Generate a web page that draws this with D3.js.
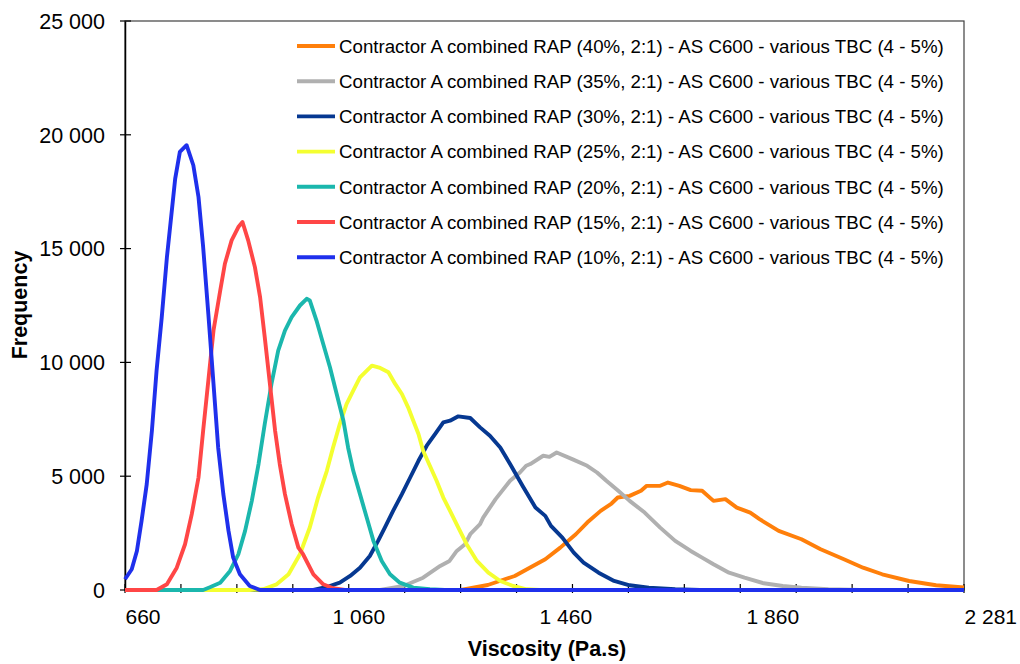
<!DOCTYPE html>
<html>
<head>
<meta charset="utf-8">
<script src="https://cdn.jsdelivr.net/npm/d3@7"></script>
<style>
  html, body { margin: 0; padding: 0; background: #ffffff; }
  svg { display: block; font-family: "Liberation Sans", Arial, sans-serif; }
</style>
</head>
<body>
<svg id="chart" width="1020" height="664"></svg>
<script>
// Viscosity distributions for Contractor A combined RAP blends, [viscosity (Pa.s), frequency]
const rap40 = [[660,0],[1309,0],[1361,220],[1413,616],[1442,981],[1472,1351],[1501,1862],[1531,2450],[1553,2962],[1579,3477],[1600,3800],[1612,4063],[1635,4137],[1657,4358],[1668,4577],[1694,4577],[1709,4723],[1731,4577],[1753,4388],[1775,4358],[1797,3917],[1820,3992],[1842,3622],[1868,3403],[1886,3112],[1923,2597],[1967,2231],[2004,1791],[2049,1351],[2086,981],[2123,691],[2175,396],[2227,207],[2281,110]];
const rap35 = [[660,0],[1153,0],[1198,176],[1236,541],[1269,1056],[1287,1276],[1301,1716],[1317,2011],[1327,2450],[1346,2892],[1352,3183],[1376,3992],[1404,4798],[1423,5163],[1435,5458],[1443,5533],[1468,5898],[1480,5850],[1494,6043],[1524,5752],[1553,5458],[1572,5163],[1590,4798],[1613,4358],[1635,3917],[1664,3403],[1694,2742],[1723,2157],[1753,1716],[1775,1422],[1797,1131],[1827,761],[1857,541],[1894,295],[1931,176],[1967,101],[2019,31],[2080,0],[2281,0]];
const rap30 = [[660,0],[1024,0],[1050,132],[1075,321],[1095,616],[1114,981],[1133,1496],[1149,2157],[1162,2742],[1178,3477],[1195,4212],[1211,4943],[1227,5678],[1243,6338],[1259,6852],[1275,7366],[1288,7438],[1304,7630],[1327,7557],[1346,7145],[1365,6778],[1385,6263],[1404,5533],[1428,4577],[1453,3622],[1472,3257],[1483,2817],[1505,2302],[1527,1642],[1546,1202],[1575,761],[1605,396],[1635,207],[1672,101],[1723,31],[1771,0],[2281,0]];
const rap25 = [[660,0],[901,0],[927,31],[953,250],[976,691],[998,1571],[1017,2745],[1033,4063],[1050,5237],[1062,6263],[1075,7293],[1088,8172],[1101,8759],[1114,9344],[1137,9859],[1153,9756],[1169,9565],[1182,9053],[1195,8612],[1207,8026],[1217,7438],[1227,6852],[1236,6118],[1249,5458],[1262,4798],[1275,4063],[1288,3477],[1304,2742],[1320,2011],[1340,1276],[1362,761],[1385,396],[1410,176],[1436,31],[1462,0],[2281,0]];
const rap20 = [[660,0],[811,0],[824,119],[844,321],[863,836],[879,1571],[892,2597],[905,3917],[918,5533],[930,7293],[943,9053],[956,10519],[969,11400],[982,11985],[998,12500],[1011,12795],[1017,12720],[1030,11840],[1043,10812],[1056,9784],[1069,8612],[1082,7438],[1091,6263],[1101,5237],[1114,4212],[1127,3183],[1140,2157],[1156,1276],[1172,691],[1191,321],[1217,101],[1249,31],[1278,0],[2281,0]];
const rap15 = [[660,0],[721,0],[741,250],[760,981],[776,2011],[789,3332],[802,4943],[811,7000],[821,9200],[831,11400],[844,13160],[853,14335],[866,15361],[879,15948],[887,16168],[898,15361],[911,14187],[921,12867],[930,11106],[940,9053],[950,7000],[959,5533],[969,4212],[982,2892],[995,1862],[1004,1571],[1024,691],[1043,250],[1062,75],[1085,0],[2281,0]];
const rap10 = [[660,471],[673,911],[683,1716],[692,3037],[702,4652],[712,7000],[721,9640],[731,11985],[741,14625],[757,18077],[766,19248],[779,19542],[792,18662],[802,17267],[811,15066],[821,12134],[831,9053],[840,6263],[850,4212],[860,2597],[869,1422],[882,691],[901,176],[921,0],[2281,0]];

const seriesNames = [
  "Contractor A combined RAP (40%, 2:1) - AS C600 - various TBC (4 - 5%)",
  "Contractor A combined RAP (35%, 2:1) - AS C600 - various TBC (4 - 5%)",
  "Contractor A combined RAP (30%, 2:1) - AS C600 - various TBC (4 - 5%)",
  "Contractor A combined RAP (25%, 2:1) - AS C600 - various TBC (4 - 5%)",
  "Contractor A combined RAP (20%, 2:1) - AS C600 - various TBC (4 - 5%)",
  "Contractor A combined RAP (15%, 2:1) - AS C600 - various TBC (4 - 5%)",
  "Contractor A combined RAP (10%, 2:1) - AS C600 - various TBC (4 - 5%)"
];
const seriesColors = ["#ff7f0a", "#b0b0b0", "#063891", "#f4ff30", "#1bb7ad", "#ff4646", "#1f30ec"];
const seriesData = [rap40, rap35, rap30, rap25, rap20, rap15, rap10];

const xLabelValues = [660, 1060, 1460, 1860, 2281];
const yTickValues = [0, 5000, 10000, 15000, 20000, 25000];
const xDomain = [660, 2281];
const yDomain = [0, 25000];

const svg = d3.select("#chart");
const plotLeft = 125, plotRight = 964, plotTop = 21, plotBottom = 590;

const x = d3.scaleLinear().domain(xDomain).range([plotLeft, plotRight]);
const y = d3.scaleLinear().domain(yDomain).range([plotBottom, plotTop]);
const fmt = v => d3.format(",")(v).replace(/,/g, " ");

// plot frame
svg.append("rect")
  .attr("x", plotLeft).attr("y", plotTop)
  .attr("width", plotRight - plotLeft).attr("height", plotBottom - plotTop)
  .attr("fill", "none").attr("stroke", "#404040").attr("stroke-width", 1.2);

// y axis
const yAxis = svg.append("g").attr("transform", `translate(${plotLeft},0)`)
  .call(d3.axisLeft(y).tickValues(yTickValues).tickSize(0).tickFormat(""));
yAxis.select(".domain").attr("stroke", "#000").attr("stroke-width", 1.5);
svg.append("g").selectAll("line").data(yTickValues).join("line")
  .attr("x1", plotLeft - 5).attr("x2", plotLeft + 6)
  .attr("y1", d => y(d)).attr("y2", d => y(d))
  .attr("stroke", "#000").attr("stroke-width", 1.2);
svg.append("g").selectAll("text").data(yTickValues).join("text")
  .attr("x", 105).attr("y", d => y(d))
  .attr("dy", "0.36em").attr("text-anchor", "end")
  .attr("font-size", 21.5).attr("fill", "#000")
  .text(fmt);

// x axis: minor tick marks over the full range, labels anchored at their values
const xTicks = d3.range(16).map(i => xDomain[0] + i * (xDomain[1] - xDomain[0]) / 15);
svg.append("g").selectAll("line").data(xTicks).join("line")
  .attr("x1", d => x(d)).attr("x2", d => x(d))
  .attr("y1", plotBottom - 6).attr("y2", plotBottom + 3)
  .attr("stroke", "#000").attr("stroke-width", 1.2);
svg.append("line")
  .attr("x1", plotLeft).attr("x2", plotRight).attr("y1", plotBottom).attr("y2", plotBottom)
  .attr("stroke", "#000").attr("stroke-width", 1.5);
svg.append("g").selectAll("text").data(xLabelValues).join("text")
  .attr("x", d => x(d) + 0.5).attr("y", 624)
  .attr("text-anchor", "start")
  .attr("font-size", 21).attr("fill", "#000")
  .text(fmt);

// axis titles
svg.append("text")
  .attr("x", 547).attr("y", 656)
  .attr("text-anchor", "middle").attr("font-size", 21.5).attr("font-weight", "bold")
  .text("Viscosity (Pa.s)");
svg.append("text")
  .attr("transform", "translate(27,305) rotate(-90)")
  .attr("text-anchor", "middle").attr("font-size", 21.5).attr("font-weight", "bold")
  .text("Frequency");

// curves (10% drawn last, on top)
const line = d3.line().x(d => x(d[0])).y(d => y(d[1]));
svg.append("g").selectAll("path").data(seriesData).join("path")
  .attr("d", line)
  .attr("fill", "none")
  .attr("stroke", (d, i) => seriesColors[i])
  .attr("stroke-width", 3.9)
  .attr("stroke-linejoin", "round");

// legend
const legend = svg.append("g").selectAll("g").data(seriesNames).join("g")
  .attr("transform", (d, i) => `translate(297,${46 + i * 35.2})`);
legend.append("line")
  .attr("x1", 0).attr("x2", 38).attr("y1", 0).attr("y2", 0)
  .attr("stroke", (d, i) => seriesColors[i]).attr("stroke-width", 3.9);
legend.append("text")
  .attr("x", 42).attr("y", 0).attr("dy", "0.36em")
  .attr("font-size", 18.7).attr("fill", "#000")
  .text(d => d);
</script>
</body>
</html>
